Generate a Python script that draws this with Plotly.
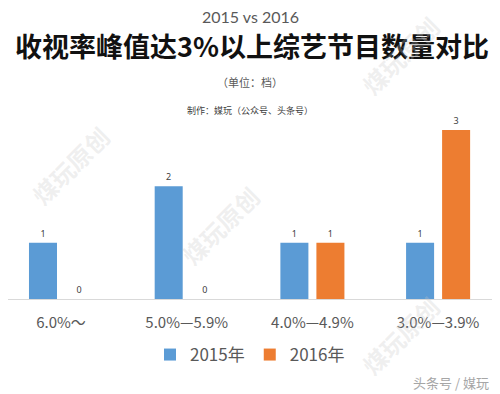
import plotly.graph_objects as go

categories = ["6.0%～", "5.0%—5.9%", "4.0%—4.9%", "3.0%—3.9%"]
values_2015 = [1, 2, 1, 1]
values_2016 = [0, 0, 1, 3]
series_names = ["2015年", "2016年"]

BLUE = "#5B9BD5"
ORANGE = "#ED7D31"

# page body has an 8px default margin; size the figure to fill the rest
OFF = 8
W, H = 500 - OFF, 394 - OFF
base_page = 299
top = 113 - OFF
bottom = H - (base_page - OFF)
plot_h = H - top - bottom


def fx(x_page):
    return (x_page - OFF) / W


def fy(y_page):
    return ((base_page - OFF) - (y_page - OFF)) / plot_h


spacing = 125.7
r0 = -(61 - OFF) / spacing
r1 = r0 + W / spacing

fig = go.Figure()
for name, vals, col in [(series_names[0], values_2015, BLUE), (series_names[1], values_2016, ORANGE)]:
    fig.add_trace(go.Bar(
        x=categories, y=vals, name=name, marker=dict(color=col, line=dict(width=0)),
        text=[str(v) for v in vals], textposition="outside", cliponaxis=False,
        textfont=dict(size=9, color="#404040", family="Noto Sans"),
    ))

fig.update_layout(
    width=W, height=H,
    margin=dict(l=0, r=0, t=top, b=bottom, autoexpand=False),
    paper_bgcolor="white", plot_bgcolor="white",
    barmode="group", bargap=0.427, bargroupgap=0.222,
    showlegend=True,
    legend=dict(orientation="h", x=fx(250), xanchor="center", y=fy(355), yanchor="middle",
                font=dict(size=17, color="#595959", family="Noto Sans CJK SC"),
                itemwidth=30, traceorder="normal"),
    xaxis=dict(showline=True, linecolor="#D9D9D9", linewidth=1, showgrid=False,
               range=[r0, r1],
               tickfont=dict(size=15, color="#595959", family="Noto Sans CJK SC"),
               ticks="", ticklabelstandoff=10, fixedrange=True, automargin=False),
    yaxis=dict(range=[0, 3.3], visible=False, showgrid=False, zeroline=False, automargin=False),
    font=dict(family="Noto Sans CJK SC"),
)

ann = [
    dict(text="2015 vs 2016", x=250, y=16, size=16, color="#595959", family="Lato"),
    dict(text="<b>收视率峰值达3%以上综艺节目数量对比</b>", x=252, y=45, size=27, color="#111111",
         family="Noto Sans CJK SC"),
    dict(text="（单位：档）", x=250, y=82, size=11, color="#595959", family="Noto Sans CJK SC"),
    dict(text="制作：媒玩（公众号、头条号）", x=250, y=110, size=9, color="#404040",
         family="Noto Sans CJK SC"),
]
for a in ann:
    fig.add_annotation(text=a["text"], x=fx(a["x"]), y=fy(a["y"]), xref="paper", yref="paper",
                       xanchor="center", yanchor="middle", showarrow=False,
                       font=dict(size=a["size"], color=a["color"], family=a["family"]))

fig.add_annotation(text="头条号 / 媒玩", x=fx(491), y=fy(382), xref="paper", yref="paper",
                   xanchor="right", yanchor="middle", showarrow=False,
                   font=dict(size=13, color="#A6A6A6", family="Noto Sans CJK SC"))

# faint diagonal watermarks
for (wx, wy) in [(70, 165), (220, 225), (400, 335), (400, 55)]:
    fig.add_annotation(text="<b>煤玩原创</b>", x=fx(wx), y=fy(wy), xref="paper", yref="paper",
                       xanchor="center", yanchor="middle", showarrow=False, textangle=-45,
                       font=dict(size=24, color="rgba(200,200,200,0.28)", family="Noto Sans CJK SC"))

fig.write_html("out.html")
